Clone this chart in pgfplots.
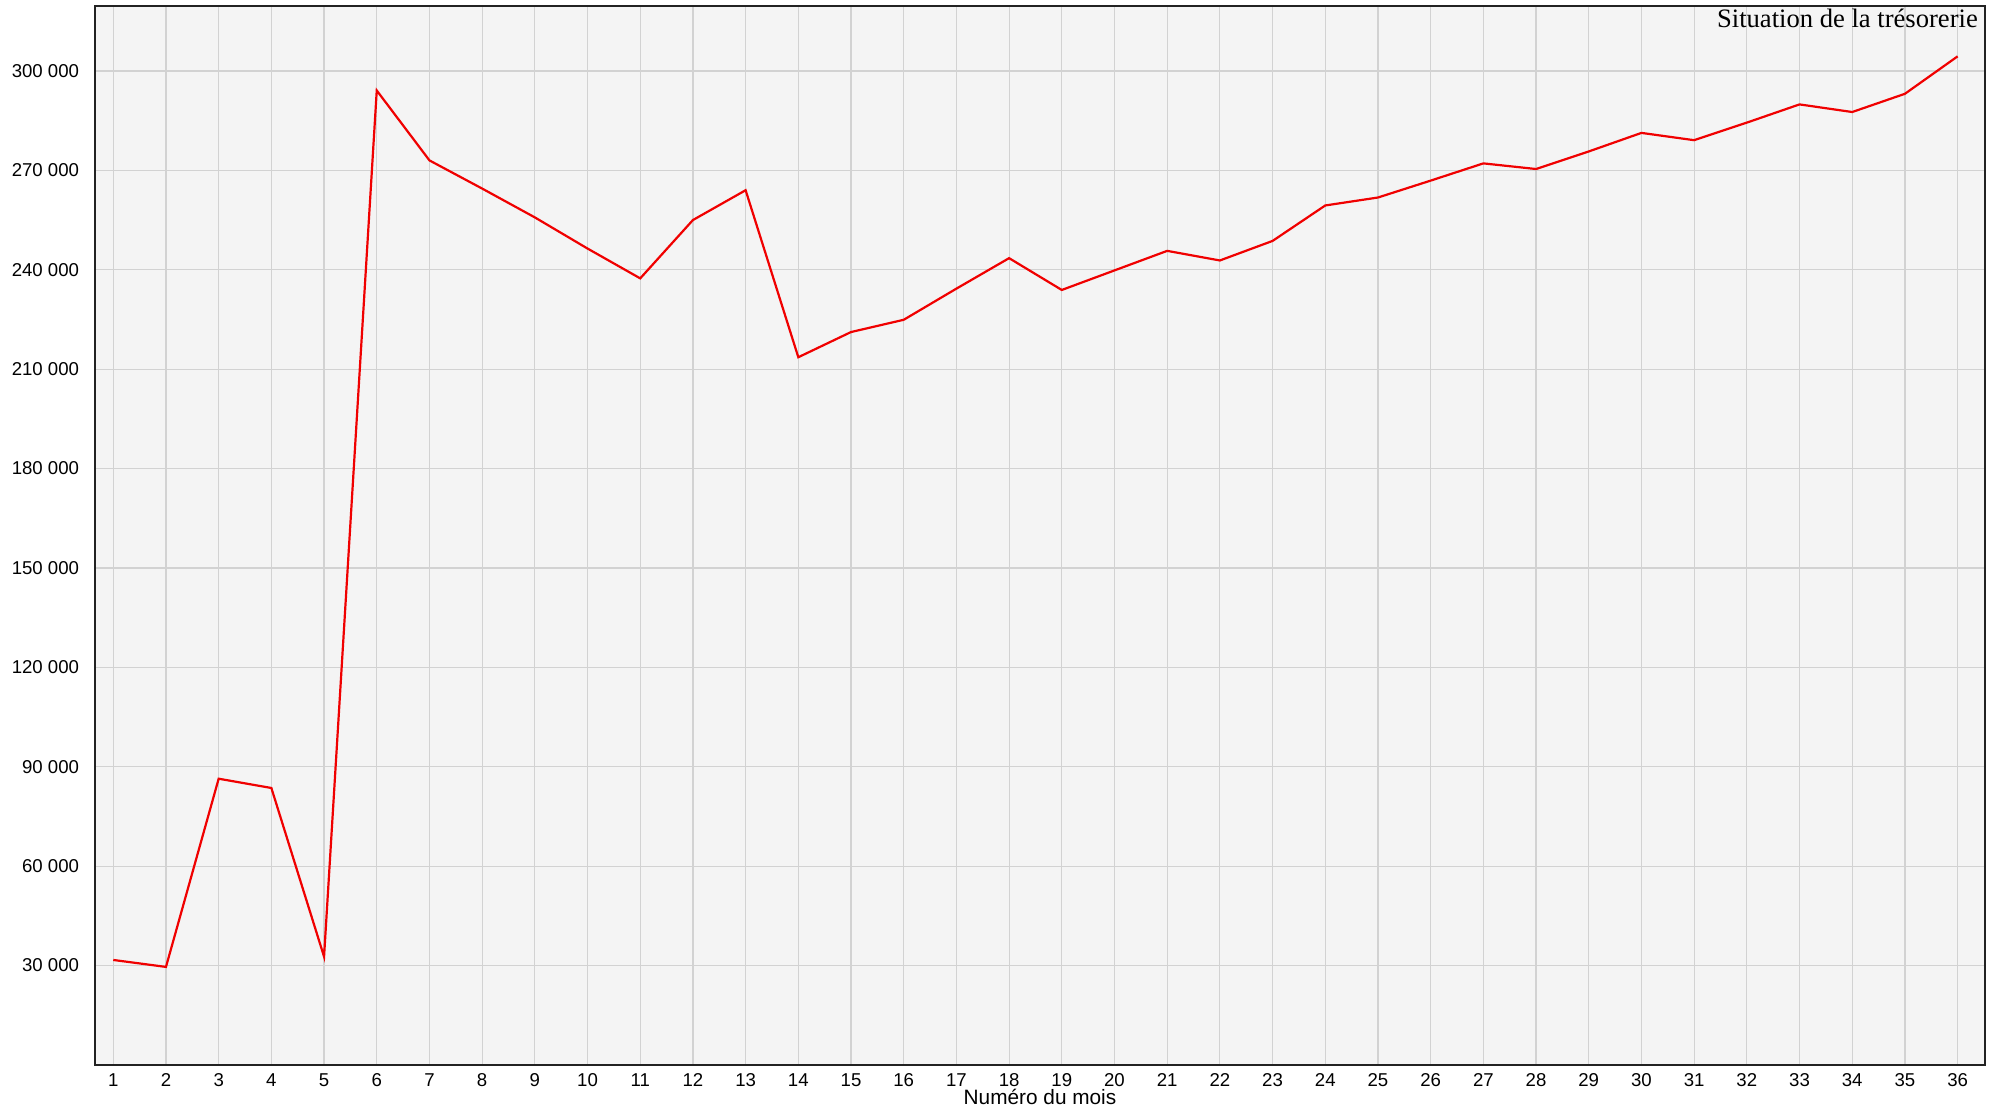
\documentclass[border=0pt]{standalone}
\usepackage{fontspec}
\setmainfont{Liberation Serif}
\setsansfont{Liberation Sans}
\usepackage{pgfplots}
\pgfplotsset{compat=1.18}
\definecolor{bgc}{HTML}{F4F4F4}
\definecolor{gridc}{HTML}{D2D2D2}
\definecolor{axc}{HTML}{222222}
\definecolor{linec}{HTML}{F00000}
\begin{document}
\begin{tikzpicture}
\path[use as bounding box] (-47.5bp,-23.5bp) rectangle (953bp,532.5bp);
\begin{axis}[
  at={(0,0)}, anchor=south west,
  scale only axis,
  width=945bp, height=529.5bp,
  xmin=0.653, xmax=36.52,
  ymin=0, ymax=319600,
  xtick={1,...,36},
  xticklabels={1,2,3,4,5,6,7,8,9,10,11,12,13,14,15,16,17,18,19,20,21,22,23,24,25,26,27,28,29,30,31,32,33,34,35,36},
  ytick={30000,60000,90000,120000,150000,180000,210000,240000,270000,300000},
  yticklabels={30 000,60 000,90 000,120 000,150 000,180 000,210 000,240 000,270 000,300 000},
  axis background/.style={fill=bgc},
  grid=major,
  major grid style={gridc, line width=0.6bp},
  axis line style={axc, line width=1bp},
  major tick length=0pt,
  tick style={draw=none},
  ticklabel style={font=\sffamily\fontsize{9.3bp}{11bp}\selectfont, text=black},
  xticklabel style={anchor=base, inner sep=0pt, yshift=-10.8bp},
  yticklabel style={anchor=east, inner sep=0pt, xshift=-7.8bp},
  scaled y ticks=false,
  xlabel={Numéro du mois},
  xlabel style={at={(axis description cs:0.5,0)}, anchor=base, inner sep=0pt, yshift=-19.6bp, font=\sffamily\fontsize{10.4bp}{12bp}\selectfont},
]
\addplot[linec, line width=1.1bp, mark=none] coordinates {
(1,31700) (2,29600) (3,86400) (4,83600) (5,32700) (6,294100)
(7,273000) (8,264500) (9,255800) (10,246400) (11,237400) (12,255000)
(13,264000) (14,213600) (15,221200) (16,224900) (17,234300) (18,243500)
(19,233900) (20,239800) (21,245700) (22,242800) (23,248700) (24,259400)
(25,261800) (26,266900) (27,272100) (28,270400) (29,275700) (30,281300)
(31,279100) (32,284400) (33,289900) (34,287600) (35,293100) (36,304400)
};
\node[anchor=base east, inner sep=0pt, font=\fontsize{13.3bp}{15bp}\selectfont, xshift=-3.4bp, yshift=-10.65bp] at (rel axis cs:1,1) {Situation de la trésorerie};
\end{axis}
\end{tikzpicture}
\end{document}
